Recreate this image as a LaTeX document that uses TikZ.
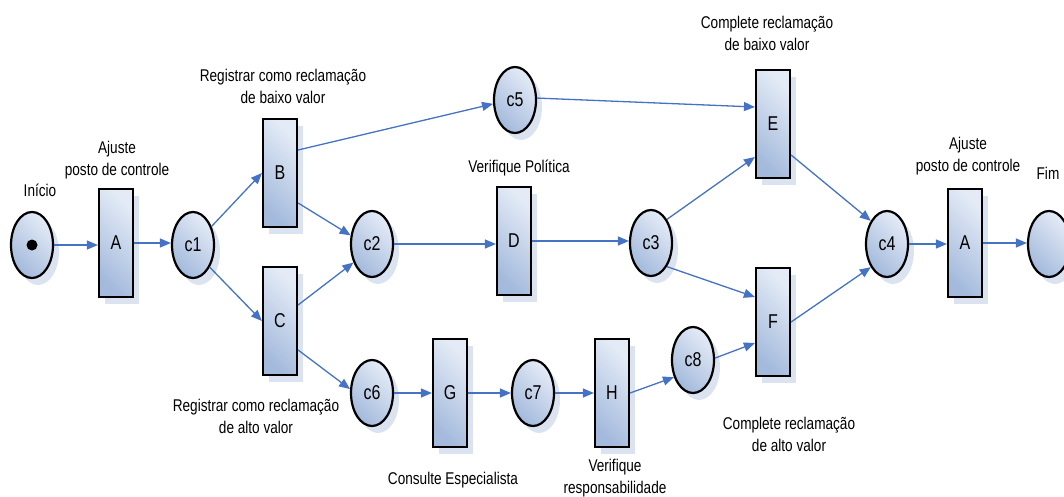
\documentclass[tikz,border=0pt]{standalone}
\usepackage{fontspec}
\setmainfont{Liberation Sans}[FakeStretch=0.8]
\usetikzlibrary{shapes.geometric,arrows.meta,shadows}
\definecolor{lightc}{RGB}{228,235,246}
\definecolor{darkc}{RGB}{164,186,220}
\definecolor{shadowc}{RGB}{210,220,238}
\definecolor{arrowc}{RGB}{68,114,196}
\begin{document}
\begin{tikzpicture}[x=1pt,y=-1pt,
  base/.style={draw=black, line width=2.2pt, top color=lightc, bottom color=darkc, shading angle=-45,
    drop shadow={shadow xshift=6pt, shadow yshift=-7pt, fill=shadowc, opacity=0.8},
    font=\fontsize{20}{24}\selectfont, inner sep=0pt},
  place/.style={base, ellipse, minimum width=42pt, minimum height=66pt},
  trans/.style={base, rectangle, minimum width=34pt, minimum height=108pt},
  flow/.style={draw=arrowc, line width=1.3pt, -{Triangle[length=11pt,width=9pt]}},
  lbl/.style={font=\fontsize{17}{22}\selectfont, align=center, inner sep=0pt}
]
\useasboundingbox (0,0) rectangle (1064,497);
% places and transitions
\node[place] (ini) at (32,245) {};
\node[circle, fill=black, minimum size=11pt, inner sep=0pt] (dot) at (ini.center) {};
\node[trans] (A1) at (116,243) {A};
\node[place] (c1) at (193,245) {c1};
\node[trans] (B) at (280,173) {B};
\node[trans] (C) at (280,321) {C};
\node[place] (c2) at (372,244) {c2};
\node[place] (c5) at (515,100) {c5};
\node[trans] (D) at (514,241) {D};
\node[place] (c3) at (651,243) {c3};
\node[trans] (E) at (773,124) {E};
\node[trans] (F) at (773,322) {F};
\node[place] (c4) at (887,244) {c4};
\node[trans] (A2) at (965,243) {A};
\node[place] (fim) at (1049,244) {};
\node[place] (c6) at (372,393) {c6};
\node[trans] (G) at (450,393) {G};
\node[place] (c7) at (533,393) {c7};
\node[trans] (H) at (612,393) {H};
\node[place] (c8) at (693,360) {c8};
% captions
\node[lbl] (l1) at (40,190) {Início};
\node[lbl] (l2) at (117,160) {Ajuste\\posto de controle};
\node[lbl] (l3) at (283,86) {Registrar como reclamação\\de baixo valor};
\node[lbl] (l4) at (519,168) {Verifique Política};
\node[lbl] (l5) at (767,33) {Complete reclamação\\de baixo valor};
\node[lbl] (l6) at (968,156) {Ajuste\\posto de controle};
\node[lbl] (l7) at (1048,173) {Fim};
\node[lbl] (l8) at (256,416) {Registrar como reclamação\\de alto valor};
\node[lbl] (l9) at (453,480) {Consulte Especialista};
\node[lbl] (l10) at (615,478) {Verifique\\responsabilidade};
\node[lbl] (l11) at (789,434) {Complete reclamação\\de alto valor};
% arcs
\draw[flow] (ini.east) -- (ini.east -| A1.west);
\draw[flow] (A1.east) -- (A1.east -| c1.west);
\draw[flow] (c1.45) -- (B.west);
\draw[flow] (c1.-53) -- (C.west);
\draw[flow] ([yshift=-30pt]B.east) -- (c2.158);
\draw[flow] ([yshift=16pt]C.east) -- (c2.225);
\draw[flow] ([yshift=-29pt]C.east) -- (c6.170);
\draw[flow] ([yshift=23pt]B.east) -- (c5.190);
\draw[flow] (c5.5) -- ([yshift=17pt]E.west);
\draw[flow] (c2.east) -- (c2.east -| D.west);
\draw[flow] (D.east) -- (D.east -| c3.west);
\draw[flow] (c3.56) -- ([yshift=-33pt]E.west);
\draw[flow] (c3.-56) -- ([yshift=25pt]F.west);
\draw[flow] ([yshift=-31pt]E.east) -- (c4.125);
\draw[flow] (F.east) -- (c4.235);
\draw[flow] (c8.5) -- ([yshift=-21pt]F.west);
\draw[flow] (H.east) -- (c8.222);
\draw[flow] (c6.east) -- (c6.east -| G.west);
\draw[flow] (G.east) -- (G.east -| c7.west);
\draw[flow] (c7.east) -- (c7.east -| H.west);
\draw[flow] (c4.east) -- (c4.east -| A2.west);
\draw[flow] (A2.east) -- (A2.east -| fim.west);
\end{tikzpicture}
\end{document}
